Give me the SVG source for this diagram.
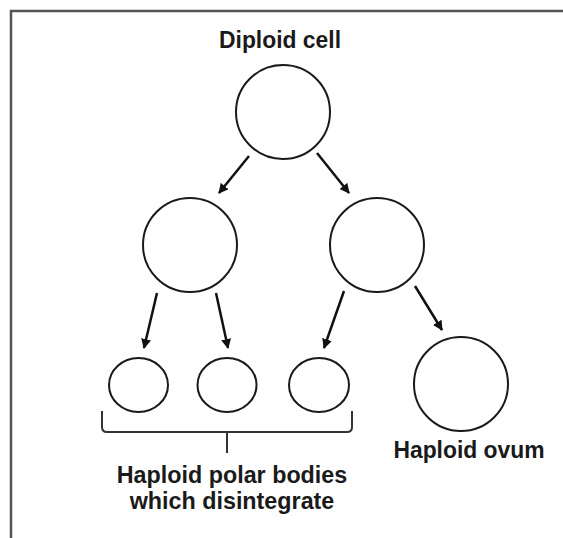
<svg xmlns="http://www.w3.org/2000/svg" width="563" height="538" viewBox="0 0 563 538">
<defs>
<marker id="ah" markerWidth="10" markerHeight="10" viewBox="0 0 10 10" refX="9" refY="5" orient="auto" markerUnits="userSpaceOnUse">
<path d="M0,0 L10,5 L0,10 Z" fill="#111"/>
</marker>
</defs>
<style>
.cell{fill:#fff;stroke:#1a1a1a;stroke-width:2}
.arr{stroke:#111;stroke-width:2.5;fill:none;marker-end:url(#ah)}
.lbl{font-family:"Liberation Sans",Arial,sans-serif;font-weight:bold;font-size:22px;fill:#1a1a1a;text-anchor:middle}
</style>
<rect width="563" height="538" fill="#fff"/>
<path d="M11,538 V11 H563" fill="none" stroke="#555" stroke-width="2.5"/>
<g id="diploid">
<circle class="cell" cx="283" cy="112" r="47"/>
<text class="lbl" transform="translate(280,48) scale(1.04,1.1)">Diploid cell</text>
</g>
<g id="mid-left"><circle class="cell" cx="190" cy="245" r="47"/></g>
<g id="mid-right"><circle class="cell" cx="377" cy="245" r="47"/></g>
<g id="polar1"><ellipse class="cell" cx="138.5" cy="385" rx="29.5" ry="27"/></g>
<g id="polar2"><ellipse class="cell" cx="227" cy="385" rx="29.5" ry="27"/></g>
<g id="polar3"><ellipse class="cell" cx="319" cy="385" rx="30" ry="27"/></g>
<g id="ovum">
<circle class="cell" cx="461" cy="384" r="47"/>
<text class="lbl" transform="translate(469,458) scale(1.04,1.1)">Haploid ovum</text>
</g>
<g id="polar-label">
<path d="M102,411 V427 Q102,432 107,432 H347 Q352,432 352,427 V411 M227,432 V453" fill="none" stroke="#333" stroke-width="2"/>
<text class="lbl" transform="translate(232,483) scale(1.06,1.06)">Haploid polar bodies</text>
<text class="lbl" transform="translate(232,509) scale(1.06,1.06)">which disintegrate</text>
</g>
<g id="connectors">
<line class="arr" x1="249" y1="156" x2="219" y2="193"/>
<line class="arr" x1="317" y1="153" x2="349" y2="193"/>
<line class="arr" x1="157" y1="293" x2="144" y2="348"/>
<line class="arr" x1="216" y1="293" x2="228" y2="348"/>
<line class="arr" x1="344" y1="291" x2="324" y2="348"/>
<line class="arr" x1="415" y1="286" x2="442" y2="330"/>
</g>
</svg>
